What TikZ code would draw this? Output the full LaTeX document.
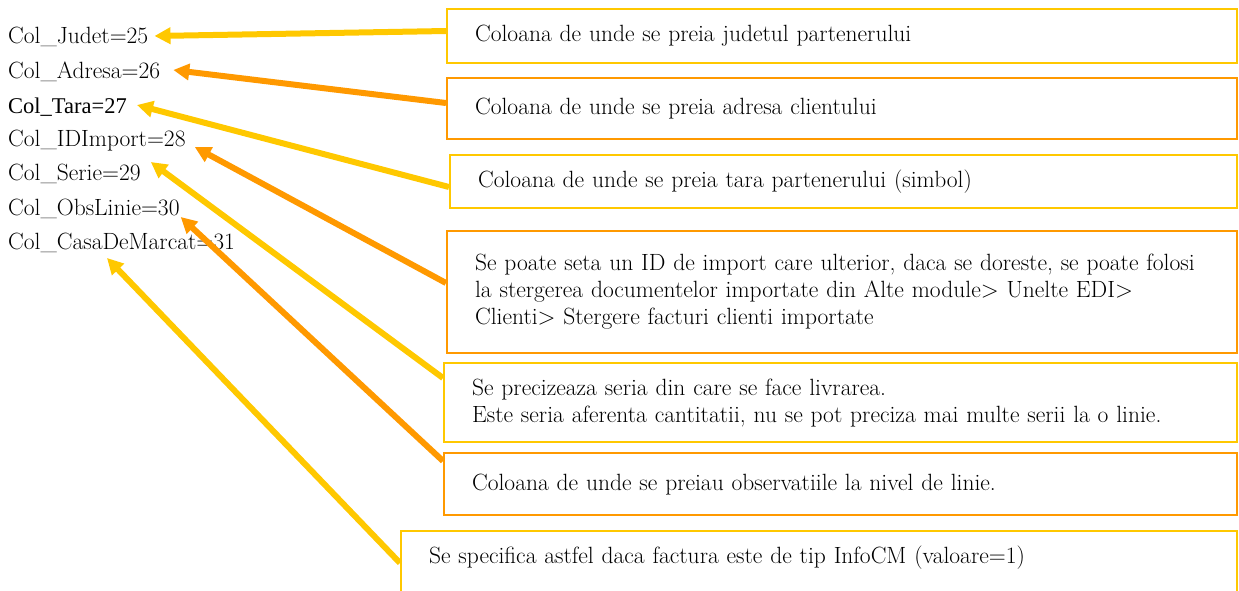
\documentclass[tikz,border=0pt]{standalone}
\usepackage{fontspec}
\newfontfamily\tarafont{Liberation Serif}
\usetikzlibrary{arrows.meta,calc}
\definecolor{galben}{RGB}{255,200,0}
\definecolor{portocaliu}{RGB}{255,153,0}
\tikzstyle{line} = [draw, line width=6pt, -{Triangle[length=16pt,width=16pt]}]
\tikzstyle{nota} = [draw, line width=2.2pt, anchor=north west, align=left, inner xsep=28pt, font=\fontsize{23.5}{27}\selectfont]
\tikzstyle{col} = [anchor=west, inner sep=2pt, font=\fontsize{23.5}{27}\selectfont]

\begin{document}
\begin{tikzpicture}[x=1pt,y=-1pt]
      \useasboundingbox (0,0) rectangle (1239,590);
      \node [col] (jud) at (6,37) {Col\_Judet=25};
      \node [col] (adr) at (6,72) {Col\_Adresa=26};
      \node [col,font=\fontsize{22.5}{27}\tarafont] (tar) at (6,107) {Col\_Tara=27};
      \node [col] (imp) at (6,141) {Col\_IDImport=28};
      \node [col] (ser) at (6,174) {Col\_Serie=29};
      \node [col] (obs) at (6,209) {Col\_ObsLinie=30};
      \node [col] (cas) at (6,243) {Col\_CasaDeMarcat=31};
      \node [nota,draw=galben,text width=734pt,minimum height=54pt] (b1) at (446,8) {Coloana de unde se preia judetul partenerului};
      \node [nota,draw=portocaliu,text width=734pt,minimum height=61pt] (b2) at (446,77) {Coloana de unde se preia adresa clientului};
      \node [nota,draw=galben,text width=731pt,minimum height=53pt] (b3) at (449,154) {Coloana de unde se preia tara partenerului (simbol)};
      \node [nota,draw=portocaliu,text width=734pt,minimum height=122pt] (b4) at (446,230) {Se poate seta un ID de import care ulterior, daca se doreste, se poate folosi\\ la stergerea documentelor importate din Alte module> Unelte EDI>\\ Clienti> Stergere facturi clienti importate};
      \node [nota,draw=galben,text width=737pt,minimum height=79pt] (b5) at (443,362) {Se precizeaza seria din care se face livrarea.\\ Este seria aferenta cantitatii, nu se pot preciza mai multe serii la o linie.};
      \node [nota,draw=portocaliu,text width=737pt,minimum height=62pt] (b6) at (443,452) {Coloana de unde se preiau observatiile la nivel de linie.};
      \node [nota,draw=galben,text width=780pt,text height=25pt,text depth=60pt,inner ysep=7pt] (b7) at (400,530) {Se specifica astfel daca factura este de tip InfoCM (valoare=1)};
      \path [line,galben] ($(b1.north west)+(0,23)$) -- ($(jud.east)+(4,-1)$);
      \path [line,portocaliu] ($(b2.north west)+(0,26)$) -- ($(adr.east)+(11,-2)$);
      \path [line,galben] ($(b3.north west)+(0,33)$) -- ($(tar.east)+(8,-2)$);
      \path [line,portocaliu] ($(b4.north west)+(0,53)$) -- ($(imp.east)+(7,6)$);
      \path [line,galben] ($(b5.north west)+(0,16)$) -- ($(ser.east)+(8,-12)$);
      \path [line,portocaliu] ($(b6.north west)+(0,9)$) -- ($(obs.east)+(-1,8)$);
      \path [line,galben] ($(b7.north west)+(0,33)$) -- ($(cas.west)+(101,15)$);
    \end{tikzpicture}
\end{document}
